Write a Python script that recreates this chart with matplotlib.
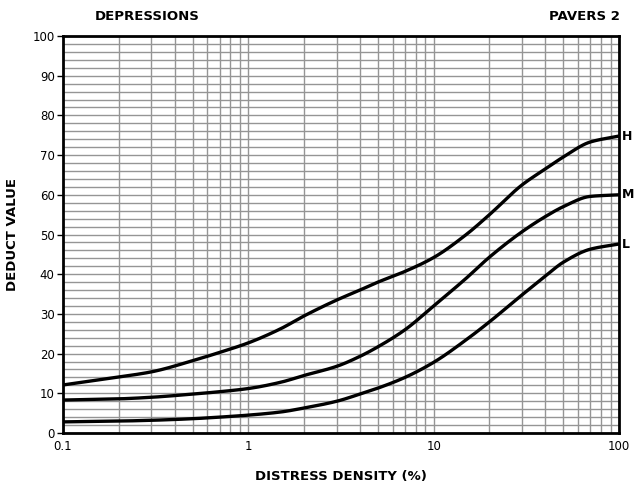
import numpy as np
import matplotlib
matplotlib.use("Agg")
import matplotlib.pyplot as plt
from matplotlib.ticker import LogLocator, FixedLocator, NullFormatter, FixedFormatter

density = [0.1, 0.2, 0.3, 0.5, 0.7, 1, 1.5, 2, 3, 4, 5, 7, 10, 15, 20, 30, 40, 50, 70, 100]
high = [12.1, 14.1, 15.4, 18.2, 20.3, 22.7, 26.3, 29.5, 33.5, 36, 38, 40.7, 44.2, 50, 55, 62.5, 66.5, 69.5, 73.3, 74.8]
medium = [8.3, 8.6, 9.0, 9.8, 10.4, 11.2, 12.8, 14.5, 16.8, 19.3, 21.7, 26, 32, 39, 44.3, 50.7, 54.5, 57, 59.6, 60]
low = [2.8, 3.0, 3.2, 3.6, 4.0, 4.5, 5.3, 6.3, 8.0, 9.8, 11.3, 14, 17.8, 23.5, 28, 34.8, 39.5, 43, 46.3, 47.6]
series = [("H", high), ("M", medium), ("L", low)]
xticks = [0.1, 1, 10, 100]
xticklabels = ["0.1", "1", "10", "100"]
yticks = list(range(0, 101, 10))


def smooth(xs, ys, n=400):
    """Monotone cubic (Fritsch-Carlson) rendering of the read points in log-x."""
    x = np.log10(np.asarray(xs, float))
    y = np.asarray(ys, float)
    h = np.diff(x)
    d = np.diff(y) / h
    m = np.zeros_like(y)
    m[0], m[-1] = d[0], d[-1]
    for i in range(1, len(y) - 1):
        if d[i - 1] * d[i] <= 0:
            m[i] = 0
        else:
            w1 = 2 * h[i] + h[i - 1]
            w2 = h[i] + 2 * h[i - 1]
            m[i] = (w1 + w2) / (w1 / d[i - 1] + w2 / d[i])
    xn = np.linspace(x[0], x[-1], n)
    idx = np.clip(np.searchsorted(x, xn) - 1, 0, len(x) - 2)
    t = (xn - x[idx]) / h[idx]
    h00 = 2 * t**3 - 3 * t**2 + 1
    h10 = t**3 - 2 * t**2 + t
    h01 = -2 * t**3 + 3 * t**2
    h11 = t**3 - t**2
    yn = h00 * y[idx] + h10 * h[idx] * m[idx] + h01 * y[idx + 1] + h11 * h[idx] * m[idx + 1]
    return 10**xn, yn


fig = plt.figure(figsize=(6.34, 4.95), dpi=100)
ax = fig.add_axes([63/634, 62/495, 556/634, 397/495])
ax.set_xscale("log")
ax.set_xlim(0.1, 100)
ax.set_ylim(0, 100)

ax.xaxis.set_major_locator(FixedLocator(xticks))
ax.xaxis.set_major_formatter(FixedFormatter(xticklabels))
ax.xaxis.set_minor_locator(LogLocator(base=10, subs=np.arange(2, 10)))
ax.xaxis.set_minor_formatter(NullFormatter())
ax.set_yticks(yticks)
ax.set_yticks(range(0, 101, 2), minor=True)

ax.grid(True, which="both", axis="both", color="#959595", lw=1.0)
ax.set_axisbelow(True)
ax.tick_params(axis="both", which="minor", length=0)
ax.tick_params(axis="both", which="major", length=4, width=1, direction="out", labelsize=8.5, pad=2)
ax.tick_params(axis="x", which="major", length=0, pad=5)
for s in ax.spines.values():
    s.set_linewidth(2)
    s.set_color("black")

for name, vals in series:
    sx, sy = smooth(density, vals)
    ax.plot(sx, sy, color="black", lw=2.4, solid_capstyle="round")
    ax.text(1.005, vals[-1], name, transform=ax.get_yaxis_transform(), fontsize=9,
            fontweight="bold", va="center", ha="left", clip_on=False)

ax.set_xlabel("DISTRESS DENSITY (%)", fontsize=9.5, fontweight="bold", labelpad=12)
ax.set_ylabel("DEDUCT VALUE", fontsize=9.5, fontweight="bold", labelpad=10)
fig.text(95/634, 1 - 16/495, "DEPRESSIONS", fontsize=9.5, fontweight="bold", ha="left", va="center")
fig.text(620/634, 1 - 16/495, "PAVERS 2", fontsize=9.5, fontweight="bold", ha="right", va="center")

fig.savefig("out.png", dpi=100)
